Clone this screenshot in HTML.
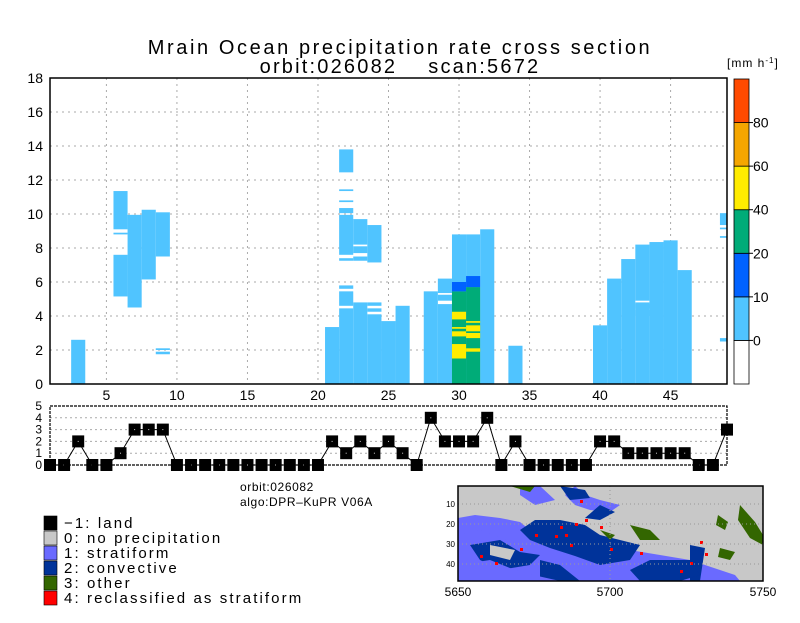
<!DOCTYPE html>
<html><head><meta charset="utf-8"><style>
body{margin:0;background:#fff;}
svg text{font-family:"Liberation Sans",sans-serif;}
</style></head><body>
<svg id="c" width="800" height="618" xmlns="http://www.w3.org/2000/svg">
<text x="400" y="54" font-size="20" letter-spacing="2.6" text-anchor="middle">Mrain Ocean precipitation rate cross section</text>
<text x="400" y="73" font-size="20" letter-spacing="2.2" text-anchor="middle" style="white-space:pre">orbit:026082    scan:5672</text>
<g id="main"></g>
<g id="strip"></g>
<g id="cbar"></g>
<g id="legend"></g>
<g id="map"></g>
</svg>
<script>
// ---- main cross-section data ----
const xTicks=[5,10,15,20,25,30,35,40,45];
const yTicks=[0,2,4,6,8,10,12,14,16,18];
const segCol=[3,6,6,6,7,8,9,9,9,21,22,22,22,22,22,22,22,22,22,23,23,23,23,24,24,24,24,25,26,28,29,29,29,30,31,32,34,40,41,42,43,43,43,43,44,45,46,49,49,49,49];
const segLo=[0,5.15,8.8,9.1,4.5,6.15,7.5,2.0,1.75,0,12.45,11.35,10.7,10.05,7.6,7.25,5.6,4.6,0,0,8.2,7.7,7.25,0,4.25,4.6,7.15,0,0,0,0,4.9,5.35,0,0,0,0,0,0,0,0,4.9,4.45,4.0,0,0,0,9.35,9.1,8.6,2.5];
const segHi=[2.6,7.6,8.9,11.35,9.95,10.25,10.1,2.1,1.9,3.35,13.8,11.45,10.8,10.35,9.95,7.4,5.8,5.45,4.45,4.8,9.7,8.1,7.5,4.1,4.45,4.8,9.35,3.7,4.6,5.45,4.7,5.25,6.2,8.8,8.8,9.1,2.25,3.45,6.2,7.35,4.7,8.2,4.8,4.35,8.35,8.45,6.7,10.05,9.2,8.7,2.7];
// intense layers: class 1=10-20, 2=20-40, 3=40-60
const hvCol=[30,30,31,31,30,30,30,30,31,31,31,31];
const hvLo=[0,5.45,0,5.7,3.8,3.25,2.8,1.5,3.6,3.1,2.7,1.9];
const hvHi=[5.45,6.0,5.7,6.35,4.25,3.35,3.1,2.35,3.7,3.45,3.0,2.1];
const hvCls=[2,1,2,1,3,3,3,3,3,3,3,3];
// ---- strip data ----
const stripVals=[0,0,2,0,0,1,3,3,3,0,0,0,0,0,0,0,0,0,0,0,2,1,2,1,2,1,0,4,2,2,2,4,0,2,0,0,0,0,0,2,2,1,1,1,1,1,0,0,3];
const stripYTicks=[0,1,2,3,4,5];
// ---- colorbar ----
const cbLabels=["0","10","20","40","60","80"];
const cbColors=["#ffffff","#50c4ff","#0062ff","#00ac78","#ffec00","#f5a600","#ff4a00"];

const NS="http://www.w3.org/2000/svg";
function mk(p,t,a){const e=document.createElementNS(NS,t);for(const k in a)e.setAttribute(k,a[k]);p.appendChild(e);return e;}
const L=50,R=727,T=78,B=384;
const xs=v=>L+(v-1)*(R-L)/48;
const ys=v=>B-v*(B-T)/18;
const main=document.getElementById('main');
xTicks.forEach(t=>{const g=mk(main,'line',{x1:xs(t),x2:xs(t),y1:T,y2:B,stroke:'#aaa','stroke-dasharray':'2,4'});


const tx=mk(main,'text',{x:xs(t),y:B+16,'font-size':14,'text-anchor':'middle'});tx.textContent=t;

});
yTicks.forEach(t=>{if(t>0&&t<18){const g=mk(main,'line',{x1:L,x2:R,y1:ys(t),y2:ys(t),stroke:'#aaa','stroke-dasharray':'2,4'});

}
const tx=mk(main,'text',{x:L-7,y:ys(t)+5,'font-size':14,'text-anchor':'end'});tx.textContent=t;

});
const clip=mk(main,'clipPath',{id:'mc'});mk(clip,'rect',{x:L,y:T,width:R-L,height:B-T});
const bars=mk(main,'g',{'clip-path':'url(#mc)'});
for(let i=0;i<segCol.length;i++){const r=mk(bars,'rect',{x:xs(segCol[i]-0.5),width:xs(1.5)-xs(0.5),y:ys(segHi[i]),height:ys(segLo[i])-ys(segHi[i]),fill:cbColors[1]});

}
for(let i=0;i<hvCol.length;i++){const r=mk(bars,'rect',{x:xs(hvCol[i]-0.5),width:xs(1.5)-xs(0.5),y:ys(hvHi[i]),height:ys(hvLo[i])-ys(hvHi[i]),fill:cbColors[hvCls[i]+1]});

}
const fr=mk(main,'rect',{x:L,y:T,width:R-L,height:B-T,fill:'none',stroke:'#000','stroke-width':1.5});



// strip
const st=document.getElementById('strip');
const ST=406,SB=465;const sy=v=>SB-v*(SB-ST)/5;
stripYTicks.forEach(t=>{if(t>0&&t<5){mk(st,'line',{x1:L,x2:R,y1:sy(t),y2:sy(t),stroke:'#aaa','stroke-dasharray':'2,3'});}
const tx=mk(st,'text',{x:L-8,y:sy(t)+4,'font-size':12,'text-anchor':'end'});tx.textContent=t;

});
const sg=mk(st,'g',{});
let pts=stripVals.map((v,i)=>xs(i+1)+','+sy(v)).join(' ');
const pl=mk(sg,'polyline',{points:pts,fill:'none',stroke:'#000','stroke-width':1});


stripVals.forEach((v,i)=>{const r=mk(sg,'rect',{x:xs(i+1)-6,y:sy(v)-6,width:12,height:12,fill:'#000'});


mk(sg,'rect',{x:xs(i+1)-0.5,y:sy(v)-0.5,width:1,height:1,fill:'#ccc'});});
const sf=mk(st,'rect',{x:L,y:ST,width:R-L,height:SB-ST,fill:'none',stroke:'#000','stroke-width':1.2,'stroke-dasharray':'3,1'});



// colorbar
const cb=document.getElementById('cbar');
const CX=734,CW=15,CT=79,CB2=384,seg=(CB2-CT)/7;
cbColors.forEach((c,i)=>{const r=mk(cb,'rect',{x:CX,y:CB2-(i+1)*seg,width:CW,height:seg,fill:c,stroke:'#000','stroke-width':0.8});

});
cbLabels.forEach((l,i)=>{mk(cb,'line',{x1:CX+CW,x2:CX+CW+4,y1:CB2-i*seg-seg,y2:CB2-i*seg-seg,stroke:'#000'});
const tx=mk(cb,'text',{x:753,y:CB2-(i+1)*seg+5,'font-size':14});tx.textContent=l;

});
const ut=mk(cb,'text',{x:727,y:67,'font-size':12,'letter-spacing':'1'});ut.innerHTML='[mm  h<tspan font-size="8" dy="-4">-1</tspan><tspan dy="4">]</tspan>';



// legend
const lg=document.getElementById('legend');
const t1=mk(lg,'text',{x:240,y:491,'font-size':12,'letter-spacing':'0.6'});t1.textContent='orbit:026082';


const t2=mk(lg,'text',{x:240,y:506,'font-size':12,'letter-spacing':'0.6'});t2.textContent='algo:DPR\u2013KuPR  V06A';


const legNames=["\u22121: land","0: no precipitation","1: stratiform","2: convective","3: other","4: reclassified as stratiform"];
const legCols=["#000","#c8c8c8","#6a6aff","#00339a","#336600","#ff0000"];
legNames.forEach((n,i)=>{const y=516+i*15;
const r=mk(lg,'rect',{x:44,y:y,width:13,height:14,fill:legCols[i],stroke:'#000','stroke-width':0.6});


const tx=mk(lg,'text',{x:64,y:y+12,'font-size':15,'letter-spacing':'2.1'});tx.textContent=n;

});

// map
const mp=document.getElementById('map');
const MX=458,MY=486,MW=305,MH=95;
mk(mp,'rect',{x:MX,y:MY,width:MW,height:MH,fill:'#c8c8c8'});
const mclip=mk(mp,'clipPath',{id:'mpc'});mk(mclip,'rect',{x:MX,y:MY,width:MW,height:MH});
const mg=mk(mp,'g',{'clip-path':'url(#mpc)'});
const polys=[
["#6a6aff","458,518 475,515 500,518 520,522 530,530 545,535 575,540 600,545 630,550 660,555 690,560 720,570 735,575 740,581 458,581"],
["#6a6aff","458,535 480,530 520,545 560,548 600,556 458,581"],
["#00339a","535,520 560,520 585,525 600,535 620,540 640,545 630,560 600,565 575,556 550,548 530,540 520,530"],
["#00339a","470,545 500,540 520,552 540,555 530,565 500,570 480,560"],
["#c8c8c8","490,545 515,550 510,560 490,555"],
["#6a6aff","575,486 585,495 600,500 620,505 610,512 590,510 575,505 565,495"],
["#00339a","600,505 615,512 600,520 585,518"],
["#00339a","560,486 585,490 590,498 570,500"],
["#6a6aff","520,486 540,486 555,500 535,505 520,495"],
["#00339a","690,545 705,548 700,581 690,581"],
["#00339a","650,560 690,560 700,575 680,581 640,581 630,570"],
["#00339a","540,560 560,565 580,581 540,581"],
["#336600","630,525 650,530 660,540 640,540"],
["#336600","740,505 755,522 763,535 763,545 750,538 738,520"],
["#336600","718,515 728,522 725,530 716,525"],
["#336600","510,486 535,486 530,492"],
["#336600","600,530 615,535 610,540"],
["#336600","720,548 735,552 730,560 718,557"],
["#6a6aff","458,565 490,560 520,572 560,581 458,581"]
];
polys.forEach(p=>{const e=mk(mg,'polygon',{points:p[1],fill:p[0]});

});
const reds=[[580,500],[585,519],[575,523],[560,526],[565,534],[600,526],[535,534],[555,535],[570,544],[610,548],[640,552],[680,570],[690,562],[705,553],[520,548],[495,562],[700,541],[480,555]];
reds.forEach(p=>{const r=mk(mg,'rect',{x:p[0],y:p[1],width:3,height:3,fill:'#f00'});});
[10,20,30,40].forEach((t,i)=>{mk(mp,'line',{x1:MX,x2:MX+MW,y1:504+i*20,y2:504+i*20,stroke:'#999','stroke-dasharray':'1,3'});
const tx=mk(mp,'text',{x:455,y:507+i*20,'font-size':8,'text-anchor':'end'});tx.textContent=t;

});
mk(mp,'line',{x1:610,x2:610,y1:MY,y2:MY+MH,stroke:'#999','stroke-dasharray':'1,3'});
[["5650",MX],["5700",610],["5750",MX+MW]].forEach(a=>{const tx=mk(mp,'text',{x:a[1],y:596,'font-size':12,'text-anchor':'middle'});tx.textContent=a[0];

});
const mf=mk(mp,'rect',{x:MX,y:MY,width:MW,height:MH,fill:'none',stroke:'#000','stroke-width':1.5});


</script>
</body></html>
